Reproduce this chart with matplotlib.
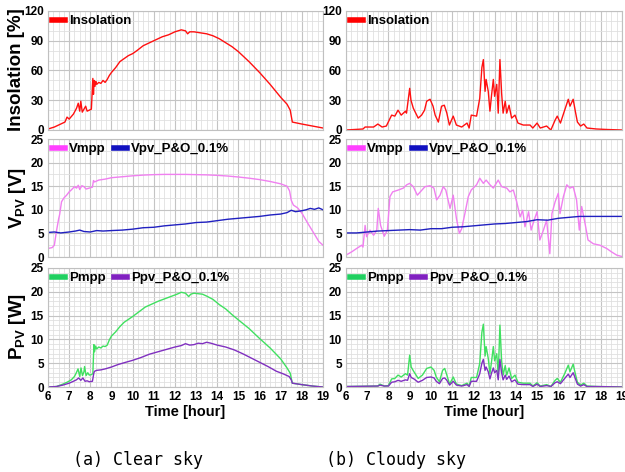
import numpy as np
import matplotlib
matplotlib.use("Agg")
import matplotlib.pyplot as plt
from matplotlib.lines import Line2D
from matplotlib.ticker import MultipleLocator

plt.rcParams["font.family"] = ["Liberation Sans", "DejaVu Sans"]
plt.rcParams["mathtext.fontset"] = "custom"
plt.rcParams["mathtext.bf"] = "Liberation Sans:bold"
plt.rcParams["mathtext.rm"] = "Liberation Sans:bold"

# ---- (a) clear sky ----
clear_ins_t = [6.0, 6.3, 6.6, 6.8, 6.9, 7.0, 7.2, 7.35, 7.43, 7.5, 7.55, 7.62, 7.7, 7.78, 7.85,
               7.95, 8.05, 8.12, 8.15, 8.18, 8.22, 8.26, 8.3, 8.4, 8.5, 8.6, 8.7, 8.8, 8.9, 9.0,
               9.2, 9.4, 9.6, 9.8, 10.0, 10.2, 10.5, 10.8, 11.1, 11.4, 11.7, 12.0, 12.3, 12.5,
               12.6, 12.7, 12.9, 13.2, 13.5, 13.8, 14.1, 14.4, 14.7, 15.0, 15.5, 16.0, 16.5,
               17.0, 17.3, 17.45, 17.55, 18.0, 18.5, 19.0]
clear_ins = [1, 3, 6, 8, 13, 11, 16, 22, 27, 19, 29, 18, 21, 24, 19,
             20, 21, 52, 36, 50, 44, 49, 46, 48, 47, 50, 48, 51, 55, 58,
             63, 69, 72, 75, 77, 80, 85, 88, 91, 94, 96, 99, 101, 100,
             97, 99, 99, 98, 97, 95, 92, 88, 84, 79, 69, 58, 46,
             33, 26, 20, 8, 6, 4, 2]

clear_vmpp_t = [6.0, 6.2, 6.3, 6.4, 6.5, 6.55, 6.64, 6.75, 6.88, 7.0, 7.1, 7.25, 7.35, 7.43,
                7.5, 7.6, 7.7, 7.8, 7.95, 8.1, 8.15, 8.2, 8.4, 8.7, 9.0, 9.5, 10.0, 10.5, 11.0,
                11.5, 12.0, 12.5, 13.0, 13.5, 14.0, 14.5, 15.0, 15.5, 16.0, 16.5, 17.0, 17.3,
                17.42, 17.5, 17.6, 17.8, 18.0, 18.3, 18.6, 18.8, 19.0]
clear_vmpp = [1.8, 2.0, 2.5, 5.5, 8.0, 9.0, 11.7, 12.5, 13.1, 13.8, 14.2, 14.9, 14.6, 15.2,
              14.3, 15.1, 14.9, 14.4, 14.6, 14.8, 16.2, 15.9, 16.3, 16.5, 16.8, 17.0, 17.2, 17.35, 17.45,
              17.5, 17.5, 17.5, 17.45, 17.4, 17.3, 17.15, 16.95, 16.7, 16.4, 16.0, 15.5, 15.0,
              14.0, 12.0, 11.0, 10.4, 9.3, 7.0, 4.8, 3.3, 2.5]

clear_vpv_t = [6.0, 6.3, 6.6, 7.0, 7.3, 7.5, 7.7, 8.0, 8.3, 8.6, 9.0, 9.5, 10.0, 10.5, 11.0,
               11.5, 12.0, 12.5, 13.0, 13.5, 14.0, 14.5, 15.0, 15.5, 16.0, 16.5, 17.0, 17.3,
               17.5, 17.7, 18.0, 18.2, 18.4, 18.6, 18.8, 19.0]
clear_vpv = [5.2, 5.3, 5.1, 5.3, 5.5, 5.7, 5.4, 5.3, 5.6, 5.5, 5.6, 5.7, 5.9, 6.2, 6.3,
             6.6, 6.8, 7.0, 7.3, 7.4, 7.7, 8.0, 8.2, 8.4, 8.6, 8.9, 9.1, 9.4,
             9.9, 9.6, 9.8, 10.0, 10.3, 10.1, 10.4, 10.0]

clear_pmpp_t = [6.0, 6.4, 6.7, 6.9, 7.1, 7.25, 7.34, 7.42, 7.5, 7.56, 7.63, 7.7, 7.73, 7.8,
                7.88, 7.95, 8.05, 8.12, 8.17, 8.2, 8.25, 8.3, 8.4, 8.5, 8.6, 8.7, 8.8, 8.9,
                9.0, 9.2, 9.4, 9.6, 9.8, 10.0, 10.3, 10.6, 10.9, 11.2, 11.5, 11.8, 12.1, 12.3,
                12.5, 12.65, 12.75, 12.9, 13.1, 13.3, 13.5, 13.8, 14.1, 14.4, 14.7, 15.0, 15.5,
                16.0, 16.5, 17.0, 17.3, 17.45, 17.55, 18.0, 18.5, 19.0]
clear_pmpp = [0.0, 0.1, 0.6, 1.0, 1.5, 2.2, 3.0, 3.8, 2.2, 4.0, 2.4, 3.2, 4.3, 2.4,
              3.0, 2.5, 2.6, 2.8, 8.9, 7.4, 8.6, 8.0, 8.4, 8.2, 8.6, 8.5, 8.8, 9.9,
              10.7, 11.6, 12.7, 13.6, 14.2, 14.8, 15.8, 16.8, 17.4, 18.0, 18.5, 19.0, 19.5, 19.9,
              19.7, 19.0, 19.5, 19.7, 19.6, 19.5, 19.1, 18.4, 17.3, 16.4, 15.2, 14.1, 12.3,
              10.2, 8.2, 5.9, 4.0, 2.9, 0.8, 0.5, 0.2, 0.0]

clear_ppv_t = [6.0, 6.4, 6.7, 7.0, 7.2, 7.34, 7.45, 7.55, 7.65, 7.75, 7.85, 7.95, 8.1, 8.17,
               8.2, 8.3, 8.5, 8.7, 9.0, 9.3, 9.6, 10.0, 10.4, 10.8, 11.2, 11.6, 12.0, 12.3,
               12.5, 12.7, 12.9, 13.1, 13.3, 13.5, 13.7, 14.0, 14.4, 14.8, 15.2, 15.6, 16.0,
               16.4, 16.8, 17.1, 17.4, 17.5, 17.55, 18.0, 18.5, 19.0]
clear_ppv = [0.0, 0.1, 0.4, 0.8, 1.2, 1.5, 1.9, 1.4, 1.9, 1.2, 1.3, 1.1, 1.2, 3.0,
             3.3, 3.5, 3.6, 3.8, 4.2, 4.7, 5.1, 5.6, 6.2, 6.9, 7.4, 7.9, 8.4, 8.7,
             9.1, 8.8, 8.9, 9.2, 9.1, 9.4, 9.2, 8.8, 8.4, 7.8, 7.0, 6.1, 5.2,
             4.3, 3.3, 2.8, 2.2, 1.5, 0.8, 0.5, 0.2, 0.0]

# ---- (b) cloudy sky ----
cloudy_ins_t = [6.0, 6.8, 6.9, 7.3, 7.5, 7.7, 7.9, 8.15, 8.3, 8.45, 8.6, 8.8, 8.85, 9.0, 9.06,
                9.17, 9.4, 9.56, 9.7, 9.8, 9.96, 10.1, 10.2, 10.35, 10.5, 10.63, 10.75, 10.87,
                11.05, 11.2, 11.45, 11.7, 11.8, 11.9, 12.15, 12.3, 12.4, 12.47, 12.55, 12.6,
                12.7, 12.78, 12.86, 12.94, 13.0, 13.1, 13.17, 13.25, 13.33, 13.4, 13.5, 13.57,
                13.68, 13.8, 13.96, 14.1, 14.35, 14.67, 14.8, 15.0, 15.15, 15.45, 15.65, 15.85,
                15.95, 16.1, 16.3, 16.47, 16.55, 16.7, 16.8, 16.9, 17.05, 17.2, 17.35, 17.8,
                18.3, 19.0]
cloudy_ins = [0, 1, 3, 3, 6, 3, 4, 15, 14, 20, 15, 19, 17, 42, 30,
              22, 12, 15, 20, 29, 31, 24, 15, 8, 24, 25, 17, 5,
              14, 5, 3, 7, 2, 15, 14, 32, 63, 71, 39, 51,
              39, 19, 36, 51, 34, 46, 17, 71, 37, 17, 29, 17,
              25, 12, 15, 7, 5, 5, 2, 7, 2, 4, 0, 10,
              14, 7, 20, 31, 24, 31, 19, 8, 4, 6, 2, 1,
              0.5, 0]

cloudy_vmpp_t = [6.0, 6.27, 6.5, 6.74, 6.8, 6.9, 6.97, 7.13, 7.3, 7.45, 7.52, 7.63, 7.8, 7.95,
                 8.07, 8.2, 8.47, 8.7, 8.86, 9.0, 9.17, 9.36, 9.5, 9.72, 9.96, 10.14, 10.27,
                 10.43, 10.58, 10.7, 10.9, 11.05, 11.2, 11.34, 11.45, 11.6, 11.76, 11.9, 12.15,
                 12.3, 12.47, 12.6, 12.78, 12.94, 13.17, 13.33, 13.57, 13.72, 13.88, 14.04,
                 14.2, 14.32, 14.43, 14.6, 14.72, 14.86, 15.0, 15.13, 15.3, 15.45, 15.6, 15.7,
                 15.85, 16.0, 16.08, 16.24, 16.4, 16.55, 16.7, 16.86, 16.99, 17.1, 17.26, 17.4,
                 17.65, 17.96, 18.28, 18.5, 18.75, 19.0]
cloudy_vmpp = [0.4, 1.1, 1.8, 2.5, 2.1, 6.7, 4.3, 5.7, 4.6, 5.7, 10.3, 6.7, 4.4, 5.7,
               12.8, 13.8, 14.2, 14.6, 15.3, 15.6, 14.9, 13.1, 13.8, 14.9, 15.1, 14.6, 12.1,
               13.1, 14.9, 14.2, 10.3, 13.1, 8.2, 5.0, 6.0, 9.2, 12.8, 14.2, 15.3,
               16.7, 15.6, 16.3, 15.3, 14.6, 16.3, 14.9, 14.6, 13.8, 14.2, 11.7,
               8.5, 9.9, 6.4, 9.6, 5.7, 7.8, 9.6, 3.6, 5.7, 7.8, 0.7, 9.2,
               11.7, 13.5, 9.2, 12.8, 15.3, 14.6, 14.9, 12.1, 5.7, 10.7, 7.1, 3.6,
               2.8, 2.5, 1.8, 1.1, 0.4, 0.1]

cloudy_vpv_t = [6.0, 6.5, 7.0, 7.5, 8.0, 8.5, 9.0, 9.5, 10.0, 10.5, 11.0, 11.5, 12.0, 12.5,
                13.0, 13.5, 14.0, 14.5, 15.0, 15.5, 16.0, 16.5, 17.0, 17.5, 18.0, 19.0]
cloudy_vpv = [5.1, 5.1, 5.3, 5.5, 5.6, 5.7, 5.8, 5.7, 6.0, 6.0, 6.3, 6.4, 6.6, 6.8,
              7.0, 7.1, 7.3, 7.5, 7.9, 7.8, 8.2, 8.4, 8.6, 8.6, 8.6, 8.6]

cloudy_p_t = [6.0, 7.5, 7.6, 7.8, 8.0, 8.15, 8.3, 8.45, 8.6, 8.8, 8.9, 9.0, 9.07, 9.2, 9.4,
              9.6, 9.8, 10.0, 10.15, 10.25, 10.4, 10.55, 10.65, 10.75, 10.88, 11.05, 11.2,
              11.45, 11.7, 11.8, 11.9, 12.15, 12.3, 12.4, 12.47, 12.55, 12.6, 12.7, 12.78,
              12.86, 12.94, 13.0, 13.1, 13.17, 13.25, 13.33, 13.4, 13.5, 13.57, 13.68, 13.8,
              13.96, 14.1, 14.35, 14.67, 14.8, 15.0, 15.15, 15.45, 15.65, 15.85, 15.95, 16.1,
              16.3, 16.47, 16.55, 16.7, 16.8, 16.9, 17.05, 17.2, 17.35, 17.8, 19.0]
cloudy_pmpp = [0.1, 0.2, 0.6, 0.2, 0.3, 1.7, 1.8, 2.5, 2.1, 2.8, 2.5, 6.7, 4.2, 3.2, 1.8,
               2.5, 3.9, 4.2, 3.5, 2.1, 1.1, 3.5, 3.9, 2.5, 0.6, 2.1, 0.6,
               0.3, 0.8, 0.2, 2.0, 2.0, 5.0, 11.5, 13.2, 6.5, 8.5, 6.0, 2.8,
               5.5, 8.5, 5.5, 7.0, 2.5, 13.0, 5.5, 2.5, 4.5, 2.5, 4.0, 1.8,
               2.5, 1.0, 0.8, 0.8, 0.2, 0.9, 0.2, 0.5, 0.1, 1.4, 1.8, 1.0,
               2.8, 4.6, 3.2, 4.8, 2.8, 1.0, 0.4, 0.8, 0.2, 0.1, 0.0]
cloudy_ppv = [0.1, 0.2, 0.4, 0.2, 0.2, 1.0, 1.1, 1.4, 1.2, 1.5, 1.4, 2.8, 2.0, 1.7, 1.0,
              1.4, 2.0, 2.1, 1.9, 1.2, 0.7, 1.8, 1.9, 1.4, 0.4, 1.2, 0.4,
              0.2, 0.5, 0.1, 1.2, 1.2, 2.8, 5.0, 5.8, 3.5, 4.2, 3.2, 1.7,
              3.0, 4.0, 3.0, 3.5, 1.5, 5.8, 3.0, 1.5, 2.5, 1.6, 2.3, 1.1,
              1.5, 0.6, 0.5, 0.5, 0.1, 0.6, 0.1, 0.3, 0.1, 0.9, 1.1, 0.7,
              1.8, 2.7, 2.0, 3.0, 1.8, 0.6, 0.2, 0.5, 0.1, 0.1, 0.0]

hours = list(range(6, 20))
captions = ["(a) Clear sky", "(b) Cloudy sky"]

C_INS = "#ff1010"
C_VMPP = "#f080f0"
C_VPV = "#2020c0"
C_PMPP = "#40e060"
C_PPV = "#8030c0"

fig = plt.figure(figsize=(6.25, 4.72), dpi=100)
W, H = 625.0, 472.0
cols = [(48, 323), (346, 622)]
rows = [(11, 130), (139, 257), (268, 387)]

panels_a = {
    0: [(clear_ins_t, clear_ins, C_INS, "Insolation")],
    1: [(clear_vmpp_t, clear_vmpp, C_VMPP, "Vmpp"), (clear_vpv_t, clear_vpv, C_VPV, "Vpv_P&O_0.1%")],
    2: [(clear_pmpp_t, clear_pmpp, C_PMPP, "Pmpp"), (clear_ppv_t, clear_ppv, C_PPV, "Ppv_P&O_0.1%")],
}
panels_b = {
    0: [(cloudy_ins_t, cloudy_ins, C_INS, "Insolation")],
    1: [(cloudy_vmpp_t, cloudy_vmpp, C_VMPP, "Vmpp"), (cloudy_vpv_t, cloudy_vpv, C_VPV, "Vpv_P&O_0.1%")],
    2: [(cloudy_p_t, cloudy_pmpp, C_PMPP, "Pmpp"), (cloudy_p_t, cloudy_ppv, C_PPV, "Ppv_P&O_0.1%")],
}
yspec = [(0, 120, 30, 10), (0, 25, 5, 2.5), (0, 25, 5, 1)]
legend_colors = {"Insolation": "#ff0000", "Vmpp": "#ff40ff", "Vpv_P&O_0.1%": "#1010c0",
                 "Pmpp": "#20d060", "Ppv_P&O_0.1%": "#8020c0"}

for ci, (x0, x1) in enumerate(cols):
    data = panels_a if ci == 0 else panels_b
    for ri, (y0, y1) in enumerate(rows):
        ax = fig.add_axes([x0 / W, 1 - y1 / H, (x1 - x0) / W, (y1 - y0) / H])
        handles = []
        for t, v, c, name in data[ri]:
            ax.plot(t, v, color=c, lw=1.0)
            handles.append(Line2D([], [], color=legend_colors[name], lw=4))
        lo, hi, maj, mnr = yspec[ri]
        ax.set_xlim(6, 19)
        ax.set_ylim(lo, hi)
        ax.set_xticks(hours)
        ax.xaxis.set_minor_locator(MultipleLocator(0.25))
        ax.yaxis.set_major_locator(MultipleLocator(maj))
        ax.yaxis.set_minor_locator(MultipleLocator(mnr))
        ax.grid(which="major", color="#c4c4c4", lw=0.8)
        ax.grid(which="minor", color="#e0e0e0", lw=0.6)
        ax.set_axisbelow(True)
        for s in ax.spines.values():
            s.set_color("#c0c0c0")
            s.set_linewidth(0.8)
        ax.tick_params(which="both", length=0, labelsize=8.5, pad=3)
        for lab in ax.get_yticklabels():
            lab.set_fontweight("bold")
        if ri == 2:
            for lab in ax.get_xticklabels():
                lab.set_fontweight("bold")
            ax.set_xlabel("Time [hour]", fontsize=10.5, fontweight="bold", labelpad=1)
        else:
            ax.tick_params(axis="x", labelbottom=False)
        ax.legend(handles, [d[3] for d in data[ri]], loc="upper left", ncol=2, frameon=False,
                  prop={"weight": "bold", "size": 9.5}, handlelength=1.0, handletextpad=0.3,
                  columnspacing=0.6, borderaxespad=0.1, borderpad=0.2)

fig.text(17 / W, 1 - 70 / H, "Insolation [%]", rotation=90, ha="center", va="center",
         fontsize=13.5, fontweight="bold")
fig.text(17 / W, 1 - 198 / H, r"$\mathbf{V_{PV}}$ [V]", rotation=90, ha="center", va="center",
         fontsize=13.5, fontweight="bold")
fig.text(17 / W, 1 - 327 / H, r"$\mathbf{P_{PV}}$ [W]", rotation=90, ha="center", va="center",
         fontsize=13.5, fontweight="bold")

fig.text(138 / W, 1 - 460 / H, captions[0], ha="center", va="center",
         fontsize=12, family="DejaVu Sans Mono")
fig.text(396 / W, 1 - 460 / H, captions[1], ha="center", va="center",
         fontsize=12, family="DejaVu Sans Mono")

fig.savefig("out.png", dpi=100, facecolor="white")
